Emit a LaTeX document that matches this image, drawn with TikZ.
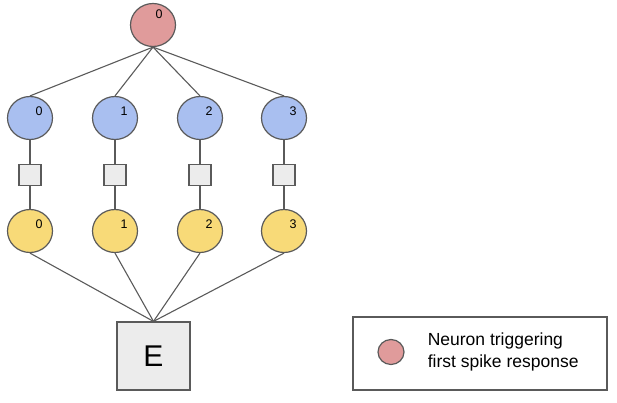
\documentclass[tikz,border=0pt]{standalone}
\usepackage{fontspec}
\setmainfont{Liberation Sans}
\usetikzlibrary{positioning, shapes.geometric}
\definecolor{spikered}{RGB}{224,155,155}
\definecolor{inblue}{RGB}{169,191,240}
\definecolor{outyellow}{RGB}{248,218,120}
\definecolor{boxgray}{RGB}{236,236,236}
\definecolor{edgegray}{RGB}{90,90,90}

\begin{document}
\begin{tikzpicture}[
  x=1pt, y=-1pt,
  neuron/.style={ellipse, minimum width=45pt, minimum height=43pt, draw=edgegray, line width=1.2pt, inner sep=0pt},
  gate/.style={rectangle, minimum width=22pt, minimum height=21pt, fill=boxgray, draw=edgegray, line width=1.2pt, inner sep=0pt},
  num/.style={font=\fontsize{12.5}{14}\selectfont},
  wire/.style={edgegray, line width=1.1pt}
]
  \useasboundingbox (0,0) rectangle (617,402);

  % Trigger neuron
  \node[neuron, fill=spikered, label={[num, xshift=6pt, yshift=11pt]center:0}] (top) at (153,25) {};

  % First layer
  \node[neuron, fill=inblue, label={[num, xshift=9pt, yshift=7pt]center:0}] (b0) at (30,118) {};
  \node[neuron, fill=inblue, label={[num, xshift=9pt, yshift=7pt]center:1}] (b1) at (115,118) {};
  \node[neuron, fill=inblue, label={[num, xshift=9pt, yshift=7pt]center:2}] (b2) at (200,118) {};
  \node[neuron, fill=inblue, label={[num, xshift=9pt, yshift=7pt]center:3}] (b3) at (284,118) {};

  % Gates
  \node[gate] (g0) at (30,175) {};
  \node[gate] (g1) at (115,175) {};
  \node[gate] (g2) at (200,175) {};
  \node[gate] (g3) at (284,175) {};

  % Second layer
  \node[neuron, fill=outyellow, label={[num, xshift=9pt, yshift=7pt]center:0}] (y0) at (30,231) {};
  \node[neuron, fill=outyellow, label={[num, xshift=9pt, yshift=7pt]center:1}] (y1) at (115,231) {};
  \node[neuron, fill=outyellow, label={[num, xshift=9pt, yshift=7pt]center:2}] (y2) at (200,231) {};
  \node[neuron, fill=outyellow, label={[num, xshift=9pt, yshift=7pt]center:3}] (y3) at (284,231) {};

  % Output box
  \node[rectangle, minimum width=73pt, minimum height=68pt, fill=boxgray, draw=edgegray, line width=1.2pt, font=\fontsize{30}{32}\selectfont] (E) at (153.5,356) {E};

  % Wires
  \draw[wire] (top.south) -- (b0.north);
  \draw[wire] (top.south) -- (b1.north);
  \draw[wire] (top.south) -- (b2.north);
  \draw[wire] (top.south) -- (b3.north);
  \draw[wire] (b0) -- (g0) -- (y0);
  \draw[wire] (b1) -- (g1) -- (y1);
  \draw[wire] (b2) -- (g2) -- (y2);
  \draw[wire] (b3) -- (g3) -- (y3);
  \draw[wire] (y0.south) -- (E.north);
  \draw[wire] (y1.south) -- (E.north);
  \draw[wire] (y2.south) -- (E.north);
  \draw[wire] (y3.south) -- (E.north);

  % Legend
  \node[rectangle, minimum width=254pt, minimum height=73pt, draw=edgegray, line width=1.2pt] (legend) at (480,353.5) {};
  \node[neuron, fill=spikered, minimum width=26pt, minimum height=25pt] (legdot) at (391,352) {};
  \node[right=23pt of legdot, align=left, inner sep=0pt, font=\fontsize{17.5}{22}\selectfont] (legtext) {Neuron triggering\\first spike response};
\end{tikzpicture}
\end{document}
